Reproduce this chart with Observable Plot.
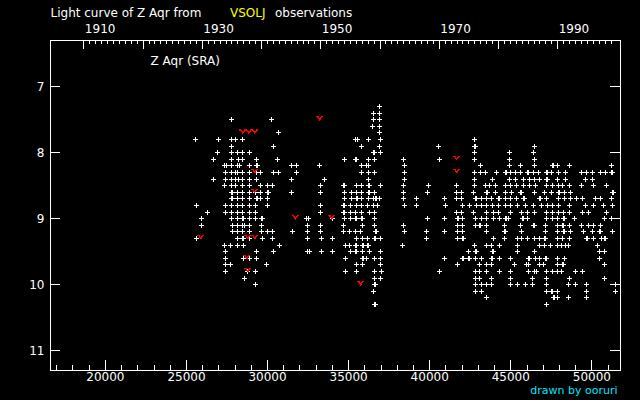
<!DOCTYPE html>
<html>
<head>
<meta charset="utf-8">
<script src="https://cdn.jsdelivr.net/npm/d3@7"></script>
<script src="https://cdn.jsdelivr.net/npm/@observablehq/plot@0.6"></script>
<style>
  html, body { margin: 0; padding: 0; background: #000; }
  svg { shape-rendering: crispEdges; }
</style>
</head>
<body>
<div id="chart"></div>
<script>
// ---- data (JD - 2400000, visual magnitude) ----
const magRows = [7.3, 7.4, 7.5, 7.6, 7.7, 7.8, 7.9, 8.0, 8.1, 8.2, 8.3, 8.4, 8.5, 8.6, 8.7, 8.8, 8.9, 9.0,
  9.1, 9.2, 9.3, 9.4, 9.5, 9.6, 9.7, 9.8, 9.9, 10.0, 10.1, 10.2, 10.3];
const jdRows = [
  "36922",
  "36552 36922",
  "27796 30262 36552 36922",
  "36490 36922",
  "30694 36922",
  "25576 26995 27796 28043 28474 35442 35565 36243 36983 42780",
  "27796 30386 35812 36922 40560 42780 42840 46479",
  "26933 27796 28166 28474 28906 36552 36614 36983 42780 44938 46418",
  "26686 27796 28228 28474 29338 30633 34764 35442 35504 36243 36613 38401 40621 42780 44938 46479",
  "27365 27488 27796 28166 28289 28906 29338 29400 31496 31804 33222 35812 36120 36243 38463 43149 44938 45616 46479 47589 47651 47897 48637 51227",
  "27426 27796 28043 28166 28474 28906 29338 29584 30386 30694 31804 35812 36243 36613 38463 42780 43149 43458 44136 44691 44753 44999 45308 45616 46048 46110 46418 46726 47219 47281 47527 47959 48391 49377 49685 50055 50548 50857 51227 51289",
  "26686 27426 27796 28043 28228 28474 28906 29338 31496 33530 36243 38463 42780 43889 44938 45308 45801 46171 46479 46787 47219 47281 47897 48391 49624 50055",
  "27365 27796 28043 28474 28906 29584 30016 30324 33284 34702 34764 35503 35812 36243 36305 36983 38401 39943 41670 42780 43458 43704 44074 44691 44999 45369 45801 46171 46541 47219 47589 47959 48206 48637 49377 50117 50918",
  "27796 27858 28166 28474 28906 29276 29584 30016 30078 31496 33284 34764 35195 35503 35812 36243 36305 36613 38401 39881 41670 41978 42718 43519 43581 44074 44691 45061 45616 45678 46479 47096 47527 47959 48021 48329 48699 51289 51351",
  "27796 27858 28166 28474 28906 29338 29400 29584 30016 34764 35195 35503 35565 35812 36243 36552 36675 36737 36922 38401 39203 40930 41670 41978 42841 42903 43211 43519 43828 44259 44321 44691 44999 45369 45801 45863 46787 46849 47219 47959 48329 48699 49069 49439 50240 50548 51227",
  "25638 27426 27796 28166 28474 28906 29276 30016 33284 34702 34764 35133 35503 35812 36182 36552 36798 38463 39203 40991 42040 42471 42903 43211 43519 43889 44259 44691 44999 45431 45924 46418 46911 47281 47589 47959 48637 49624 50117 50734 51289",
  "26316 27426 27796 28166 28474 28906 29276 33284 34702 34764 35133 35442 35812 36305 36613 41670 41978 42718 43519 43951 44259 44999 45678 46048 46479 47219 47589 47959 48267 48637 49439 49809 50918",
  "25946 27796 28166 28474 28536 28906 29276 29646 29708 32421 32544 34024 34764 35133 35442 35504 35812 35874 36613 39881 40930 41731 41793 42040 42841 43211 43519 43951 44321 44691 44753 44876 45739 45801 46048 47219 47589 47897 48267 48329 48945 50795 51227",
  "25946 27858 28166 28474 28598 28906 29646 32482 33284 34702 35873 36613 38401 41731 42040 42841 43088 43150 43519 44629 45616 46418 46480 47157 47897 48206 48268 48637 49377 49809 50117 50548",
  "27858 28166 28474 28906 29646 30016 30324 31558 32482 33284 34702 35072 35442 35750 36675 36737 38463 39820 40930 41731 42040 43519 44629 44691 45678 47157 47897 48267 48329 48699 49500 50055 50487 50549 51289",
  "25638 28166 28474 28536 28906 29708 30324 32482 33345 34024 35503 35873 36182 36613 36675 36983 39820 41731 42040 42102 43951 44629 45431 45678 46048 46479 46787 47096 47158 47897 48206 48637 49685 49747 50117 50610 50795 50857",
  "27365 27735 28166 28536 30756 34825 35072 35442 35504 35873 35935 36182 36244 38340 42780 43519 43828 44321 45431 46787 47096 47466 47897 48144 48391 48575 50364",
  "27426 29338 30386 32482 32605 33345 34024 35133 35442 35504 35873 36305 36983 42410 42841 42903 43889 43951 45431 46479 50487 50795",
  "27426 28536 28906 29338 34825 35873 35935 36120 36613 36983 40930 42040 42102 42410 42472 42841 43211 43828 43890 44321 44999 46109 46171 46541 46787 47157 47219 47897 48329 50487",
  "27426 27735 29954 35503 35873 36983 41731 43088 43519 43828 45246 45986 46109 46787 47034 47897 48206 48268 50795",
  "27426 28783 29276 34825 35503 36613 37045 40621 42841 43088 43519 44321 44999 46109 46479 46603 47219 47589 47897 48144 49007 49439",
  "28598 36613 36983 42841 43088 43828 44999 46356 47219 48637 50795",
  "29276 36613 36675 42841 43211 43519 43828 44999 45431 45924 46356 47219 48575 49007 49685 51473",
  "36552 42841 43211 47219 47527 47589 47897 49685 51473",
  "43519 47651 47713 47897 48575 49685",
  "36613 36675 47219"
];
// fainter-than (upper limit) observations
const limitJD  = [28474, 28844, 29214, 29214, 29214, 31722, 25885, 28783, 29214, 28721, 28783, 33222, 33962, 35750, 41670, 41670];
const limitMag = [7.7, 7.7, 7.7, 8.3, 8.6, 9.0, 9.3, 9.3, 9.3, 9.6, 9.8, 7.5, 9.0, 10.0, 8.1, 8.3];

// ---- axes ----
const xMajor = [20000, 25000, 30000, 35000, 40000, 45000, 50000];
const xMinor = [17000, 18000, 19000, 21000, 22000, 23000, 24000, 26000, 27000, 28000, 29000, 31000, 32000,
  33000, 34000, 36000, 37000, 38000, 39000, 41000, 42000, 43000, 44000, 46000, 47000, 48000, 49000, 51000];
const yTicks = [7, 8, 9, 10, 11];
const yearMajor = [1910, 1920, 1930, 1940, 1950, 1960, 1970, 1980, 1990];
const yearLabels = [1910, 1930, 1950, 1970, 1990];
const yearMinor = d3.range(1910, 2000);

const yearToJD = y => Date.UTC(y, 0, 1) / 86400000 + 2440587.5 - 2400000;

const obs = magRows.flatMap((m, i) => jdRows[i].split(" ").map(j => ({jd: +j, mag: m})));
const limits = limitJD.map((j, i) => ({jd: j, mag: limitMag[i]}));

const plusSymbol = {draw(ctx) { ctx.moveTo(-2.5, 0); ctx.lineTo(2.5, 0); ctx.moveTo(0, -2.5); ctx.lineTo(0, 2.5); }};
const vSymbol = {draw(ctx) { ctx.moveTo(-3.5, -3); ctx.lineTo(-2, -3); ctx.lineTo(0, 0); ctx.lineTo(2, -3); ctx.lineTo(3.5, -3); }};

const plotH = 330, plotW = 570;

const chart = Plot.plot({
  width: 640,
  height: 400,
  marginLeft: 50,
  marginRight: 20,
  marginTop: 40,
  marginBottom: 30,
  style: {background: "#000", color: "#fff", fontFamily: "DejaVu Sans, sans-serif", fontSize: "12px"},
  x: {domain: [16615, 51765], axis: null},
  y: {domain: [6.3, 11.3], reverse: true, axis: null},
  marks: [
    Plot.frame({stroke: "#fff"}),
    // bottom ticks (JD)
    Plot.ruleX(xMajor, {x: d => d, insetTop: plotH - 10, stroke: "#fff"}),
    Plot.ruleX(xMinor, {x: d => d, insetTop: plotH - 5, stroke: "#fff"}),
    // top ticks (years)
    Plot.ruleX(yearMajor, {x: yearToJD, insetBottom: plotH - 9, stroke: "#fff"}),
    Plot.ruleX(yearMinor, {x: yearToJD, insetBottom: plotH - 4, stroke: "#fff"}),
    // left/right magnitude ticks
    Plot.ruleY(yTicks, {y: d => d, insetRight: plotW - 10, stroke: "#fff"}),
    Plot.ruleY(yTicks, {y: d => d, insetLeft: plotW - 10, stroke: "#fff"}),
    // tick labels
    Plot.text(xMajor, {x: d => d, frameAnchor: "bottom", dy: 10, lineAnchor: "bottom", textAnchor: "middle", text: d => String(d), fill: "#fff"}),
    Plot.text(yTicks, {y: d => d, frameAnchor: "left", dx: -6, textAnchor: "end", lineAnchor: "middle", text: d => String(d), fill: "#fff"}),
    Plot.text(yearLabels, {x: yearToJD, frameAnchor: "top", dy: -8, dx: 1, textAnchor: "start", lineAnchor: "bottom", text: d => String(d), fill: "#fff"}),
    // title
    Plot.text(["Light curve of Z Aqr from"], {text: d => d, frameAnchor: "top-left", dy: -23.5, textAnchor: "start", lineAnchor: "bottom", fill: "#fff"}),
    Plot.text(["VSOLJ"], {text: d => d, frameAnchor: "top-left", dx: 179.5, dy: -23.5, textAnchor: "start", lineAnchor: "bottom", fill: "#ffff00"}),
    Plot.text(["observations"], {text: d => d, frameAnchor: "top-left", dx: 224.5, dy: -23.5, textAnchor: "start", lineAnchor: "bottom", fill: "#fff"}),
    Plot.text(["Z Aqr (SRA)"], {text: d => d, frameAnchor: "top-left", dx: 100, dy: 24, textAnchor: "start", lineAnchor: "bottom", fill: "#fff"}),
    Plot.text(["drawn by ooruri"], {text: d => d, frameAnchor: "bottom-right", dx: -3, dy: 23.5, textAnchor: "end", lineAnchor: "bottom", fill: "#00e6ff", fontSize: 11}),
    // data
    Plot.dot(obs, {x: "jd", y: "mag", symbol: plusSymbol, r: 2, stroke: "#fff", fill: "none", strokeWidth: 1}),
    Plot.dot(limits, {x: "jd", y: "mag", symbol: vSymbol, r: 2, stroke: "#ff0000", fill: "none", strokeWidth: 1.4})
  ]
});
document.getElementById("chart").appendChild(chart);
</script>
</body>
</html>
